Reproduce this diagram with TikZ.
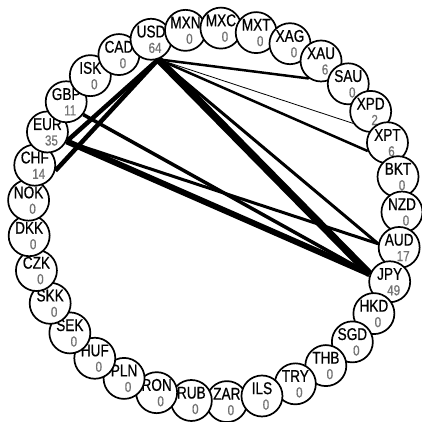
\documentclass[tikz,border=0pt]{standalone}
\usepackage{fontspec}
\setmainfont{Liberation Sans}[FakeStretch=0.8, FakeBold=0.6]
\usetikzlibrary{backgrounds}

\newcommand{\amount}[1]{\hspace*{8pt}{\fontsize{14.5}{15.5}\selectfont\color{black!55}#1}}

\tikzset{
  ccy/.style={circle, draw, fill=white, line width=1.7pt, minimum size=41pt,
    inner sep=0pt, align=center, font=\fontsize{17}{15.5}\selectfont},
  flow/.style={line width=#1},
}

\begin{document}
\begin{tikzpicture}[x=1pt, y=1pt]
        \useasboundingbox (-215,-207) rectangle (206,215);
        % Nodes (round the ring, each one on top of the one before)
        \node (ZAR) at (-86.36:187)  [ccy] {ZAR\\\amount{0}};
        \node (RUB) at (-97.27:187)  [ccy] {RUB\\\amount{0}};
        \node (RON) at (-108.18:187) [ccy] {RON\\\amount{0}};
        \node (PLN) at (-119.09:187) [ccy] {PLN\\\amount{0}};
        \node (HUF) at (-130:187)    [ccy] {HUF\\\amount{0}};
        \node (SEK) at (-140.91:187) [ccy] {SEK\\\amount{0}};
        \node (SKK) at (-151.82:187) [ccy] {SKK\\\amount{0}};
        \node (CZK) at (-162.73:187) [ccy] {CZK\\\amount{0}};
        \node (DKK) at (-173.64:187) [ccy] {DKK\\\amount{0}};
        \node (NOK) at (175.45:187)  [ccy] {NOK\\\amount{0}};
        \node (CHF) at (164.55:187)  [ccy] {CHF\\\amount{14}};
        \node (EUR) at (153.64:187)  [ccy] {EUR\\\amount{35}};
        \node (GBP) at (142.73:187)  [ccy] {GBP\\\amount{11}};
        \node (ISK) at (131.82:187)  [ccy] {ISK\\\amount{0}};
        \node (CAD) at (120.91:187)  [ccy] {CAD\\\amount{0}};
        \node (USD) at (110:187)     [ccy] {USD\\\amount{64}};
        \node (MXN) at (99.09:187)   [ccy] {MXN\\\amount{0}};
        \node (MXC) at (88.18:187)   [ccy] {MXC\\\amount{0}};
        \node (MXT) at (77.27:187)   [ccy] {MXT\\\amount{0}};
        \node (XAG) at (66.36:187)   [ccy] {XAG\\\amount{0}};
        \node (XAU) at (55.45:187)   [ccy] {XAU\\\amount{6}};
        \node (SAU) at (44.55:187)   [ccy] {SAU\\\amount{0}};
        \node (XPD) at (33.64:187)   [ccy] {XPD\\\amount{2}};
        \node (XPT) at (22.73:187)   [ccy] {XPT\\\amount{6}};
        \node (BKT) at (11.82:187)   [ccy] {BKT\\\amount{0}};
        \node (NZD) at (0.91:187)    [ccy] {NZD\\\amount{0}};
        \node (AUD) at (-10:187)     [ccy] {AUD\\\amount{17}};
        \node (JPY) at (-20.91:187)  [ccy] {JPY\\\amount{49}};
        \node (HKD) at (-31.82:187)  [ccy] {HKD\\\amount{0}};
        \node (SGD) at (-42.73:187)  [ccy] {SGD\\\amount{0}};
        \node (THB) at (-53.64:187)  [ccy] {THB\\\amount{0}};
        \node (TRY) at (-64.55:187)  [ccy] {TRY\\\amount{0}};
        \node (ILS) at (-75.45:187)  [ccy] {ILS\\\amount{0}};
        % Edges (behind the nodes, from the inner side of each ring node)
        \begin{scope}[on background layer]
          \draw[flow=7.5pt] (USD.290) -- (JPY.159);
          \draw[flow=6pt]   (EUR.334) -- (JPY.159);
          \draw[flow=4.5pt] (USD.290) -- (EUR.334);
          \draw[flow=4.5pt] (USD.290) -- (CHF.345);
          \draw[flow=3.5pt] (GBP.323) -- (JPY.159);
          \draw[flow=3pt]   (EUR.334) -- (AUD.170);
          \draw[flow=3pt]   (USD.290) -- (AUD.170);
          \draw[flow=2.5pt] (USD.290) -- (XAU.235);
          \draw[flow=2.5pt] (USD.290) -- (XPT.203);
          \draw[flow=0.8pt] (USD.290) -- (XPD.214);
        \end{scope}
      \end{tikzpicture}
\end{document}
